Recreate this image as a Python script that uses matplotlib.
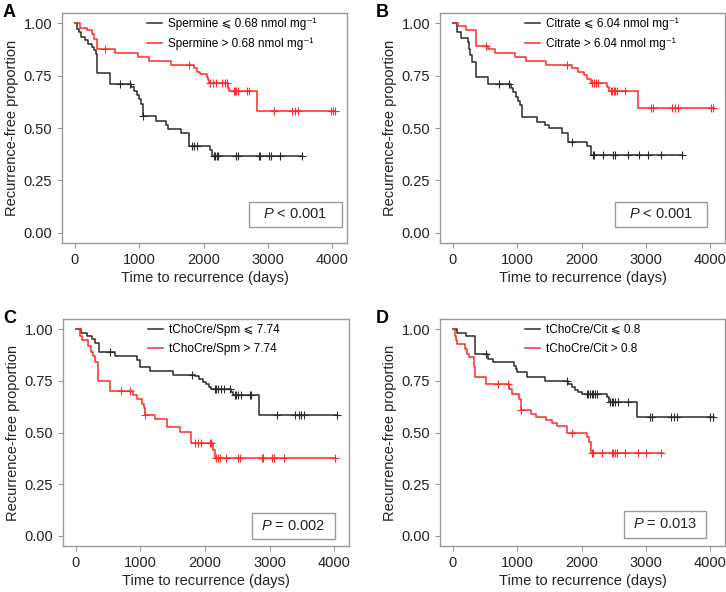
import matplotlib
matplotlib.use('Agg')
import matplotlib.pyplot as plt
from matplotlib.patches import Rectangle
import numpy as np

plt.rcParams['font.family'] = ['Liberation Sans', 'DejaVu Sans']
plt.rcParams['mathtext.fontset'] = 'custom'
plt.rcParams['mathtext.it'] = 'Liberation Sans:italic'
plt.rcParams['mathtext.rm'] = 'Liberation Sans'

# ---- panel A: spermine ----
a_lo_t = [30, 60, 100, 150, 210, 260, 300, 325, 350, 540, 880, 920, 960, 1000, 1033, 1065,
          1260, 1420, 1450, 1650, 1775, 2105, 2130]
a_lo_s = [0.975, 0.959, 0.935, 0.919, 0.903, 0.887, 0.871, 0.855, 0.764, 0.711, 0.695, 0.678,
          0.66, 0.638, 0.616, 0.556, 0.535, 0.515, 0.497, 0.475, 0.416, 0.396, 0.367]
a_lo_c = [700, 853, 1065, 1825, 1850, 1900, 2160, 2185, 2210, 2230, 2510, 2530, 2865, 2880,
          3010, 3050, 3190, 3530]
a_lo_end = 3530
a_hi_t = [75, 185, 262, 300, 340, 620, 980, 1145, 1495, 1855, 1905, 1950, 2050, 2070, 2090,
          2385, 2400, 2835]
a_hi_s = [0.98, 0.967, 0.95, 0.927, 0.879, 0.858, 0.839, 0.82, 0.802, 0.786, 0.77, 0.757,
          0.742, 0.728, 0.715, 0.69, 0.675, 0.582]
a_hi_c = [470, 1780, 2100, 2150, 2200, 2280, 2330, 2360, 2480, 2490, 2500, 2540, 2670, 2700,
          3100, 3380, 3420, 3470, 3975, 4010, 4045]
a_hi_end = 4045

# ---- panel B: citrate ----
b_lo_t = [60, 130, 230, 250, 270, 290, 360, 540, 900, 940, 980, 1020, 1050, 1080, 1310, 1435,
          1500, 1690, 1790, 2090, 2140]
b_lo_s = [0.96, 0.93, 0.91, 0.88, 0.85, 0.815, 0.746, 0.71, 0.69, 0.67, 0.65, 0.63, 0.61,
          0.555, 0.531, 0.515, 0.502, 0.478, 0.435, 0.416, 0.372]
b_lo_c = [720, 870, 1845, 2180, 2200, 2335, 2490, 2515, 2720, 2900, 3030, 3230, 3560]
b_lo_end = 3560
b_hi_t = [75, 210, 365, 540, 650, 970, 1140, 1440, 1850, 1950, 2040, 2090, 2140, 2390, 2430, 2870]
b_hi_s = [0.986, 0.967, 0.89, 0.876, 0.86, 0.839, 0.82, 0.802, 0.785, 0.77, 0.754, 0.735,
          0.715, 0.698, 0.675, 0.595]
b_hi_c = [520, 1780, 2160, 2200, 2230, 2260, 2460, 2480, 2500, 2520, 2545, 2670, 3075, 3110,
          3410, 3460, 3500, 4015, 4050]
b_hi_end = 4060

# ---- panel C: tChoCre/Spm ----
c_lo_t = [80, 175, 250, 300, 355, 610, 945, 990, 1150, 1510, 1850, 1900, 1970, 2020, 2060,
          2100, 2405, 2430, 2843]
c_lo_s = [0.984, 0.968, 0.952, 0.936, 0.888, 0.872, 0.851, 0.816, 0.797, 0.781, 0.775, 0.76,
          0.744, 0.733, 0.72, 0.712, 0.696, 0.68, 0.584]
c_lo_c = [530, 1795, 2150, 2175, 2200, 2250, 2300, 2380, 2458, 2483, 2509, 2560, 2690, 2715,
          3110, 3393, 3460, 3485, 3527, 4040]
c_lo_end = 4040
c_hi_t = [60, 100, 180, 230, 270, 300, 340, 530, 890, 950, 1030, 1060, 1075, 1225, 1405, 1610,
          1780, 2125, 2150]
c_hi_s = [0.97, 0.95, 0.92, 0.89, 0.87, 0.84, 0.75, 0.70, 0.68, 0.66, 0.64, 0.62, 0.585, 0.563,
          0.526, 0.504, 0.451, 0.416, 0.376]
c_hi_c = [705, 845, 1075, 1840, 1890, 1945, 2072, 2098, 2175, 2200, 2226, 2330, 2510, 2535,
          2880, 2905, 3034, 3075, 3230, 4010]
c_hi_end = 4010

# ---- panel D: tChoCre/Cit ----
d_lo_t = [57, 210, 340, 540, 622, 946, 975, 1000, 1152, 1430, 1790, 1850, 1900, 1950, 2005,
          2391, 2420, 2869]
d_lo_s = [0.984, 0.968, 0.88, 0.856, 0.84, 0.824, 0.808, 0.792, 0.768, 0.749, 0.733, 0.72,
          0.707, 0.696, 0.688, 0.672, 0.648, 0.573]
d_lo_c = [520, 1769, 2082, 2108, 2134, 2160, 2185, 2211, 2237, 2442, 2468, 2494, 2519, 2571,
          2725, 3059, 3095, 3393, 3445, 3486, 4000, 4036]
d_lo_end = 4060
d_hi_t = [30, 50, 70, 185, 227, 250, 324, 350, 520, 880, 915, 1033, 1060, 1213, 1290, 1445,
          1548, 1620, 1779, 2082, 2110, 2150]
d_hi_s = [0.97, 0.95, 0.928, 0.905, 0.88, 0.864, 0.816, 0.768, 0.736, 0.712, 0.688, 0.664,
          0.611, 0.592, 0.576, 0.56, 0.547, 0.531, 0.496, 0.48, 0.456, 0.40]
d_hi_c = [700, 853, 1060, 1856, 2160, 2185, 2314, 2468, 2494, 2519, 2545, 2674, 2879, 3008, 3239]
d_hi_end = 3265

labels_a = ['Spermine \u2a7d 0.68 nmol mg\u207b\u00b9', 'Spermine > 0.68 nmol mg\u207b\u00b9']
labels_b = ['Citrate \u2a7d 6.04 nmol mg\u207b\u00b9', 'Citrate > 6.04 nmol mg\u207b\u00b9']
labels_c = ['tChoCre/Spm \u2a7d 7.74', 'tChoCre/Spm > 7.74']
labels_d = ['tChoCre/Cit \u2a7d 0.8', 'tChoCre/Cit > 0.8']
pvals = ['$P$ < 0.001', '$P$ < 0.001', '$P$ = 0.002', '$P$ = 0.013']

BLACK = '#2b2b2b'
RED = '#ff2a2a'
FRAME = '#9a9a9a'


def km(ax, t, s, cens, end, color, label):
    x = np.concatenate([[0], t, [end]])
    y = np.concatenate([[1.0], s, [s[-1]]])
    ax.step(x, y, where='post', color=color, lw=1.1, label=label)
    idx = np.searchsorted(t, cens, side='right')
    cy = np.concatenate([[1.0], s])[idx]
    ax.plot(cens, cy, ls='none', marker='+', ms=5.5, mew=0.8, color=color)


fig = plt.figure(figsize=(7.26, 5.92), dpi=100)

panels = [
    ('A', [62, 13, 285, 230], a_lo_t, a_lo_s, a_lo_c, a_lo_end, a_hi_t, a_hi_s, a_hi_c, a_hi_end, labels_a, [0.656, 0.071, 0.326, 0.109]),
    ('B', [440, 13, 285, 230], b_lo_t, b_lo_s, b_lo_c, b_lo_end, b_hi_t, b_hi_s, b_hi_c, b_hi_end, labels_b, [0.614, 0.071, 0.322, 0.109]),
    ('C', [63, 319, 286, 227], c_lo_t, c_lo_s, c_lo_c, c_lo_end, c_hi_t, c_hi_s, c_hi_c, c_hi_end, labels_c, [0.66, 0.032, 0.29, 0.115]),
    ('D', [440, 319, 285, 227], d_lo_t, d_lo_s, d_lo_c, d_lo_end, d_hi_t, d_hi_s, d_hi_c, d_hi_end, labels_d, [0.647, 0.037, 0.286, 0.117]),
]

W, H = 726, 592
for i, (tag, (px, py, pw, ph), lt, ls_, lc, le, ht, hs, hc, he, labs, box) in enumerate(panels):
    ax = fig.add_axes([px / W, 1 - (py + ph) / H, pw / W, ph / H])
    km(ax, lt, ls_, lc, le, BLACK, labs[0])
    km(ax, ht, hs, hc, he, RED, labs[1])
    ax.set_xlim(-200, 4230)
    ax.set_ylim(-0.05, 1.05)
    ax.set_xticks([0, 1000, 2000, 3000, 4000])
    ax.set_yticks([0, 0.25, 0.5, 0.75, 1.0])
    ax.set_yticklabels(['0.00', '0.25', '0.50', '0.75', '1.00'])
    for sp in ax.spines.values():
        sp.set_color(FRAME)
        sp.set_linewidth(1.0)
    ax.tick_params(colors=FRAME, labelcolor='#222222', labelsize=10.5, length=3.5, width=0.8)
    ax.set_xlabel('Time to recurrence (days)', fontsize=10.5, color='#222222', labelpad=3)
    ax.set_ylabel('Recurrence-free proportion', fontsize=10.5, color='#222222', labelpad=3)
    ax.legend(loc='upper left', bbox_to_anchor=(0.28, 1.0), frameon=False, fontsize=8.5,
              handlelength=1.3, handletextpad=0.5, labelspacing=0.6, borderaxespad=0)
    ax.add_patch(Rectangle((box[0], box[1]), box[2], box[3], transform=ax.transAxes,
                           fill=False, edgecolor=FRAME, lw=1.0))
    ax.text(box[0] + box[2] / 2, box[1] + box[3] / 2, pvals[i], transform=ax.transAxes,
            ha='center', va='center', fontsize=10.5, color='#222222')
    fig.text((3 if px < 300 else 376) / W, 1 - (py - 9) / H, tag, fontsize=13,
             fontweight='bold', ha='left', va='top')

fig.savefig('out.png', dpi=100)
